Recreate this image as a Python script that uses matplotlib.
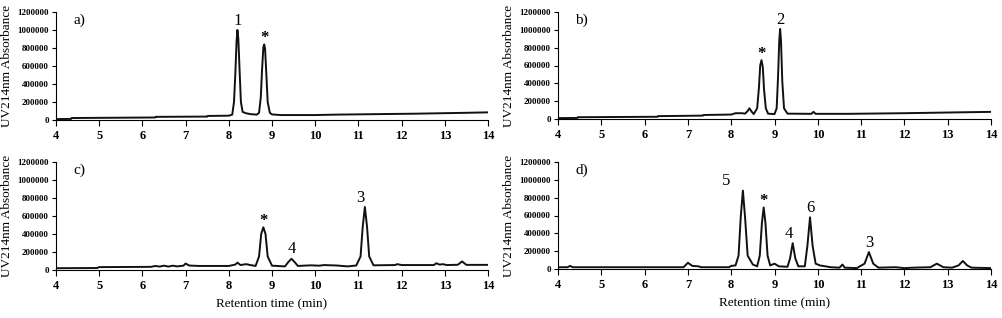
import matplotlib
matplotlib.use("Agg")
import matplotlib.pyplot as plt
from matplotlib.ticker import FixedLocator

plt.rcParams['font.family'] = ['Liberation Serif', 'DejaVu Serif']

# ---- Panel a ----
t_a = [4.0, 4.35, 4.36, 6.3, 6.31, 7.5, 7.51, 8.0, 8.08, 8.12, 8.15, 8.18, 8.2,
       8.22, 8.25, 8.28, 8.32, 8.4, 8.5, 8.65, 8.7, 8.74, 8.77, 8.8, 8.82, 8.84,
       8.87, 8.9, 8.95, 9.0, 9.2, 10.0, 10.5, 12.3, 13.5, 14.0]
v_a = [10000, 12000, 22000, 28000, 35000, 38000, 45000, 48000, 60000, 200000,
       500000, 880000, 1000000, 910000, 550000, 200000, 90000, 75000, 65000,
       60000, 80000, 250000, 560000, 810000, 840000, 790000, 500000, 200000,
       80000, 62000, 55000, 55000, 60000, 70000, 80000, 85000]

# ---- Panel b ----
t_b = [4.0, 4.45, 4.46, 6.3, 6.31, 7.35, 7.36, 8.0, 8.1, 8.25, 8.32, 8.38, 8.42,
       8.46, 8.52, 8.6, 8.64, 8.67, 8.7, 8.73, 8.76, 8.8, 8.85, 9.0, 9.05, 9.08,
       9.11, 9.13, 9.15, 9.18, 9.22, 9.3, 9.85, 9.9, 9.95, 10.7, 12.0, 13.3, 14.0]
v_b = [10000, 12000, 20000, 25000, 32000, 38000, 45000, 50000, 65000, 65000,
       60000, 90000, 120000, 90000, 55000, 120000, 350000, 600000, 660000,
       580000, 320000, 120000, 60000, 55000, 120000, 450000, 880000, 1010000,
       880000, 420000, 120000, 60000, 58000, 80000, 58000, 58000, 65000, 75000,
       80000]

# ---- Panel c ----
t_c = [4.0, 4.95, 5.0, 6.2, 6.3, 6.4, 6.5, 6.6, 6.7, 6.8, 6.95, 7.0, 7.08,
       7.3, 8.0, 8.15, 8.2, 8.27, 8.4, 8.5, 8.62, 8.7, 8.75, 8.8, 8.85, 8.9,
       9.0, 9.3, 9.38, 9.45, 9.52, 9.6, 9.9, 10.1, 10.2, 10.5, 10.75, 10.95,
       11.05, 11.1, 11.15, 11.2, 11.25, 11.35, 11.85, 11.9, 12.0, 12.75, 12.8,
       12.88, 12.95, 13.05, 13.3, 13.4, 13.5, 14.0]
v_c = [20000, 22000, 32000, 35000, 45000, 38000, 48000, 38000, 48000, 40000,
       48000, 72000, 50000, 45000, 45000, 60000, 82000, 55000, 65000, 55000,
       45000, 150000, 400000, 475000, 400000, 150000, 48000, 40000, 90000,
       125000, 90000, 45000, 52000, 48000, 55000, 50000, 40000, 50000, 150000,
       480000, 700000, 480000, 150000, 52000, 55000, 65000, 55000, 55000,
       75000, 60000, 65000, 55000, 58000, 95000, 57000, 57000]

# ---- Panel d ----
t_d = [4.0, 4.22, 4.28, 4.34, 6.9, 7.0, 7.1, 7.25, 7.3, 7.95, 8.0, 8.1, 8.17,
       8.22, 8.27, 8.32, 8.38, 8.5, 8.6, 8.66, 8.71, 8.75, 8.79, 8.84, 8.9, 9.0,
       9.1, 9.3, 9.36, 9.42, 9.48, 9.55, 9.7, 9.76, 9.82, 9.88, 9.95, 10.05,
       10.3, 10.5, 10.57, 10.62, 10.9, 11.08, 11.18, 11.28, 11.4, 11.8, 12.0,
       12.2, 12.6, 12.75, 12.9, 13.1, 13.25, 13.35, 13.45, 13.55, 14.0]
v_d = [20000, 20000, 35000, 20000, 20000, 70000, 35000, 30000, 20000, 20000,
       35000, 40000, 150000, 580000, 880000, 580000, 150000, 50000, 30000,
       150000, 520000, 690000, 520000, 150000, 40000, 60000, 30000, 25000,
       120000, 290000, 120000, 30000, 30000, 260000, 580000, 260000, 60000,
       40000, 20000, 15000, 50000, 15000, 10000, 60000, 190000, 60000, 15000,
       20000, 10000, 15000, 20000, 60000, 20000, 15000, 40000, 90000, 40000,
       15000, 10000]

# Peak labels: (label, peak time, peak value)
lab_a = [("1", 8.2, 1000000), ("*", 8.82, 840000)]
lab_b = [("*", 8.7, 660000), ("2", 9.13, 1010000)]
lab_c = [("*", 8.8, 475000), ("4", 9.45, 125000), ("3", 11.15, 700000)]
lab_d = [("5", 8.27, 880000), ("*", 8.75, 690000), ("4", 9.42, 290000),
         ("6", 9.82, 580000), ("3", 11.18, 190000)]

panel_letters = ["a)", "b)", "c)", "d)"]
x_ticks = list(range(4, 15))
y_ticks = [0, 200000, 400000, 600000, 800000, 1000000, 1200000]

W, H = 1002, 318
fig = plt.figure(figsize=(W / 100, H / 100), dpi=100)

# axes boxes in pixels: left, right, top, bottom
boxes = [(56, 488, 12, 120), (558, 991, 12, 119),
         (56, 488, 162, 270), (558, 991, 162, 269)]
data = [(t_a, v_a, lab_a), (t_b, v_b, lab_b), (t_c, v_c, lab_c), (t_d, v_d, lab_d)]
label_dx = {("c", "3"): -3, ("d", "5"): -12, ("d", "4"): -3}

for i, ((l, r, tp, bt), (t, v, labs)) in enumerate(zip(boxes, data)):
    ax = fig.add_axes([l / W, (H - bt) / H, (r - l) / W, (bt - tp) / H])
    ax.plot(t, v, color='#111111', lw=1.4, solid_joinstyle='round')
    ax.set_xlim(4, 14)
    ax.set_ylim(0, 1200000)
    ax.xaxis.set_major_locator(FixedLocator(x_ticks))
    ax.yaxis.set_major_locator(FixedLocator(y_ticks))
    ax.set_yticklabels([str(y) for y in y_ticks], fontsize=6.5, fontweight='bold')
    ax.set_xticklabels([str(x) for x in x_ticks], fontsize=9, fontweight='bold')
    for s in ['top', 'right']:
        ax.spines[s].set_visible(False)
    for s in ['left', 'bottom']:
        ax.spines[s].set_linewidth(0.8)
    ax.tick_params(axis='x', direction='out', length=4, width=0.8, pad=3)
    ax.tick_params(axis='y', direction='out', length=3, width=0.8, pad=2)
    ax.set_ylabel("UV214nm Absorbance", fontsize=9.5, labelpad=3)
    ax.text(0.04, 0.985, panel_letters[i], transform=ax.transAxes,
            fontsize=11, va='top', ha='left')
    key = "abcd"[i]
    for txt, pt, pv in labs:
        dx = label_dx.get((key, txt), 0)
        ax.annotate(txt, xy=(pt, pv), xytext=(dx, -1 if txt == "*" else 1),
                    textcoords='offset points', ha='center', va='bottom',
                    fontsize=12, fontweight='bold' if txt == "*" else 'normal')
    if i >= 2:
        ax.set_xlabel("Retention time (min)", fontsize=9.5, labelpad=5)

fig.savefig("out.png", dpi=100)
